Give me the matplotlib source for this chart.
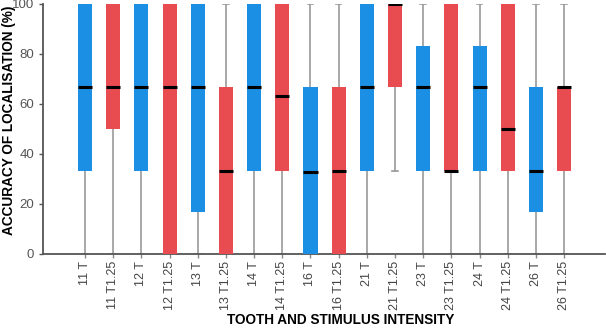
import matplotlib
matplotlib.use("Agg")
import matplotlib.pyplot as plt

plt.rcParams['font.family'] = ['Liberation Sans', 'DejaVu Sans']

labels = ["11 T", "11 T1.25", "12 T", "12 T1.25", "13 T", "13 T1.25", "14 T", "14 T1.25",
          "16 T", "16 T1.25", "21 T", "21 T1.25", "23 T", "23 T1.25", "24 T", "24 T1.25",
          "26 T", "26 T1.25"]
q1 =      [33.3, 50.0, 33.3, 0.0, 16.7, 0.0, 33.3, 33.3, 0.0, 0.0, 33.3, 66.7, 33.3, 33.3, 33.3, 33.3, 16.7, 33.3]
medians = [66.7, 66.7, 66.7, 66.7, 66.7, 33.3, 66.7, 63.3, 32.8, 33.3, 66.7, 100.0, 66.7, 33.3, 66.7, 50.0, 33.3, 66.7]
q3 =      [100.0, 100.0, 100.0, 100.0, 100.0, 66.7, 100.0, 100.0, 66.7, 66.7, 100.0, 100.0, 83.3, 100.0, 83.3, 100.0, 66.7, 66.7]
whislo =  [0.0, 0.0, 0.0, 0.0, 0.0, 0.0, 0.0, 0.0, 0.0, 0.0, 0.0, 33.3, 0.0, 0.0, 0.0, 0.0, 0.0, 0.0]
whishi =  [100.0] * 18
colors = ["#1a8fe3", "#e84b50"]

W, H = 606, 328
fig = plt.figure(figsize=(W / 100, H / 100), dpi=100)
ax = fig.add_axes([43 / W, 1 - 254 / H, (605 - 43) / W, 250 / H])

stats = []
for i in range(len(labels)):
    stats.append(dict(label=labels[i], q1=q1[i], med=medians[i], q3=q3[i],
                      whislo=whislo[i], whishi=whishi[i], fliers=[]))

pos = list(range(len(labels)))
bp = ax.bxp(stats, positions=pos, widths=0.5, patch_artist=True, showfliers=False,
            whiskerprops=dict(color="#999999", linewidth=1.2),
            capprops=dict(color="#999999", linewidth=1.2),
            medianprops=dict(color="black", linewidth=2.2, solid_capstyle="butt"),
            boxprops=dict(linewidth=0), capwidths=0.2, zorder=2)
for i, patch in enumerate(bp["boxes"]):
    patch.set_facecolor(colors[i % 2])
    patch.set_edgecolor(colors[i % 2])
    patch.set_zorder(3)
for m in bp["medians"]:
    m.set_zorder(4)

ax.set_xlim(-1.49, 17 + 1.45)
ax.set_ylim(0, 100)
ax.set_yticks([0, 20, 40, 60, 80, 100])
ax.set_xticks(pos)
ax.set_xticklabels(labels, rotation=90, fontsize=9, color="#444444")
ax.tick_params(axis="y", labelsize=9.5, labelcolor="#555555", color="#555555", length=3, width=1)
ax.tick_params(axis="x", color="#888888", length=3, width=1, pad=2)
for s in ["top", "right"]:
    ax.spines[s].set_visible(False)
for s in ["left", "bottom"]:
    ax.spines[s].set_color("#555555")
    ax.spines[s].set_linewidth(1.3)

fig.text(9 / W, 1 - 120 / H, "ACCURACY OF LOCALISATION (%)", rotation=90, fontsize=9.8,
         fontweight="bold", ha="center", va="center")
fig.text(341 / W, 1 - 320 / H, "TOOTH AND STIMULUS INTENSITY", fontsize=9.8,
         fontweight="bold", ha="center", va="center")

fig.savefig("out.png", dpi=100)
